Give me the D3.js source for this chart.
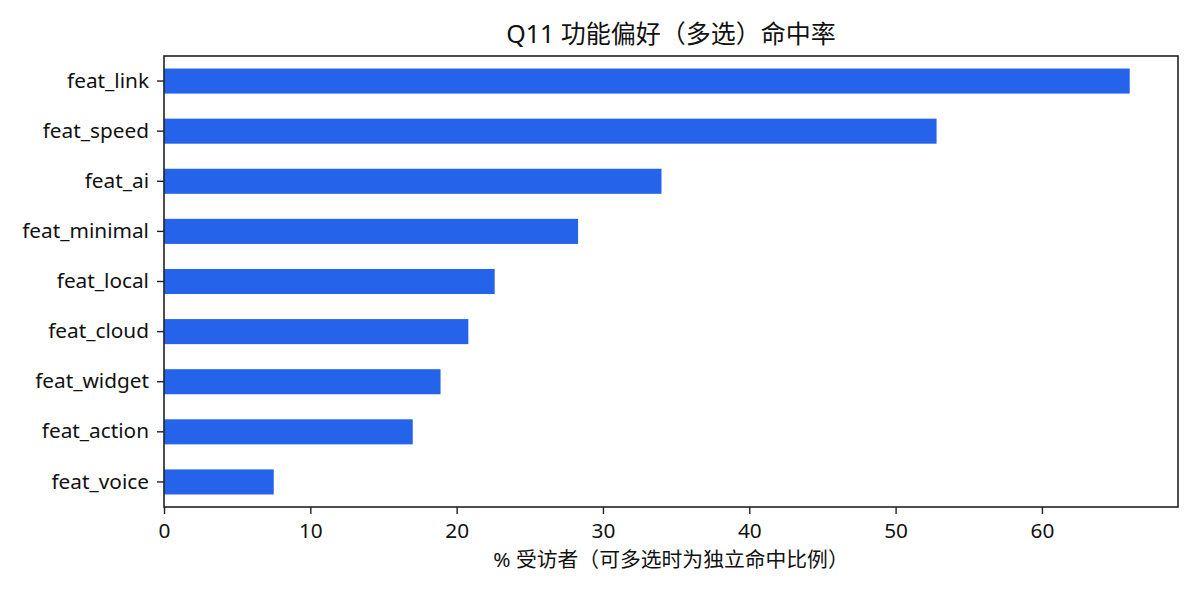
<!DOCTYPE html>
<html>
<head>
<meta charset="utf-8">
<script src="https://cdn.jsdelivr.net/npm/d3@7"></script>
<style>
  body { margin: 0; background: #fff; }
  svg { display: block; }
  svg text { font-family: "Noto Sans", "Noto Sans CJK SC", sans-serif; }
</style>
</head>
<body>
<div class="chart"></div>
<script>
// data (share of respondents, %)
var categories = ['feat_link', 'feat_speed', 'feat_ai', 'feat_minimal', 'feat_local',
                  'feat_cloud', 'feat_widget', 'feat_action', 'feat_voice'];
var values = [66.0, 52.8, 34.0, 28.3, 22.6, 20.8, 18.9, 17.0, 7.5];
var xTicks = [0, 10, 20, 30, 40, 50, 60];
var titleText = 'Q11 功能偏好（多选）命中率';
var xLabelText = '% 受访者（可多选时为独立命中比例）';

var W = 1200, H = 600;
var margin = {top: 56, right: 22, bottom: 93, left: 164};
var w = W - margin.left - margin.right;
var h = H - margin.top - margin.bottom;
var ink = '#222';

var svg = d3.select('div.chart')
  .append('svg')
  .attr('width', W)
  .attr('height', H);

svg.append('rect').attr('width', W).attr('height', H).attr('fill', '#fff');

var g = svg.append('g')
  .attr('transform', 'translate(' + margin.left + ',' + margin.top + ')');

var x = d3.scaleLinear()
  .domain([0, d3.max(values) * 1.05])
  .range([0, w]);

var y = d3.scaleBand()
  .domain(categories)
  .range([0, h])
  .paddingInner(0.5)
  .paddingOuter(0.25);

// bars
g.selectAll('rect.bar')
  .data(categories)
  .enter()
  .append('rect')
  .attr('class', 'bar')
  .attr('x', x(0))
  .attr('y', function (d) { return y(d); })
  .attr('width', function (d, i) { return x(values[i]) - x(0); })
  .attr('height', y.bandwidth())
  .style('fill', '#2563eb');

// axes
var xAxis = g.append('g')
  .attr('transform', 'translate(0,' + h + ')')
  .call(d3.axisBottom(x).tickValues(xTicks).tickFormat(d3.format('d'))
    .tickSize(7).tickSizeOuter(0).tickPadding(7));

var yAxis = g.append('g')
  .call(d3.axisLeft(y).tickSize(7).tickSizeOuter(0).tickPadding(8));

[xAxis, yAxis].forEach(function (ax) {
  // d3 puts font-family="sans-serif" on the axis group, drop it so css applies
  ax.attr('font-family', null).attr('font-size', null);
  ax.select('.domain').remove();
  ax.selectAll('line').attr('stroke', ink).attr('stroke-width', 1.4);
  ax.selectAll('text')
    .attr('fill', '#111')
    .style('font-size', '20.8px');
});
xAxis.selectAll('text').attr('y', 16).attr('dy', '0.71em');

// frame
g.append('rect')
  .attr('width', w)
  .attr('height', h)
  .attr('fill', 'none')
  .attr('stroke', ink)
  .attr('stroke-width', 1.6);

// title and label
svg.append('text')
  .attr('x', margin.left + w / 2)
  .attr('y', 43)
  .attr('text-anchor', 'middle')
  .attr('fill', '#111')
  .style('font-size', '25px')
  .text(titleText);

svg.append('text')
  .attr('x', margin.left + w / 2)
  .attr('y', 567)
  .attr('text-anchor', 'middle')
  .attr('fill', '#111')
  .style('font-size', '20.8px')
  .text(xLabelText);
</script>
</body>
</html>
